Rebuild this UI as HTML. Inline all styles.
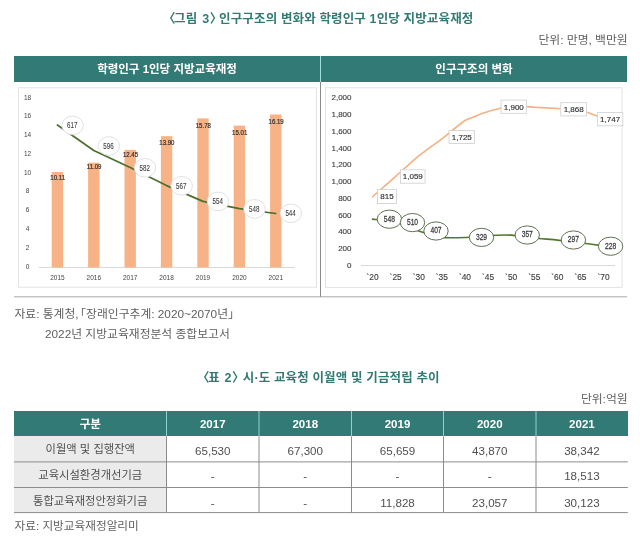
<!DOCTYPE html>
<html lang="ko"><head><meta charset="utf-8"><title>그림 3</title>
<style>
html,body{margin:0;padding:0;background:#fff;}
body{width:640px;height:544px;position:relative;overflow:hidden;filter:blur(0.35px);font-family:"Liberation Sans", "Noto Sans CJK KR", sans-serif;color:#555;}
.abs{position:absolute;white-space:nowrap;}
.title{color:#327a72;font-weight:bold;font-size:12.5px;letter-spacing:0.14px;line-height:16px;text-align:left;}
.unit{font-size:11.8px;line-height:16px;color:#606060;right:12.4px;text-align:right;}
.band{background:#327a75;top:56px;height:26px;color:#fff;font-weight:bold;font-size:11.5px;line-height:26px;text-align:center;}
.src{font-size:11.8px;line-height:16px;color:#606060;}
.lb{margin-left:-6px;margin-right:-1.5px;}.rb{margin-right:-7px;margin-left:0.4px;}
.src .lb{margin-left:-7.6px;margin-right:0;}.src .rb{margin-right:0;margin-left:0}
svg{position:absolute;left:0;top:0;}
svg text{font-family:"Liberation Sans", "Noto Sans CJK KR", sans-serif;}
.ax{font-size:7.4px;fill:#444;}
.bl{font-size:8px;fill:#2e2e2e;stroke:#2e2e2e;stroke-width:0.22px;}
.el{font-size:8.2px;fill:#3c3c3c;stroke:#3c3c3c;stroke-width:0.1px;}
.er{stroke-width:0.25px !important;}
.rx{font-size:8px;fill:#3c3c3c;stroke:#3c3c3c;stroke-width:0.12px;}
.rl{font-size:8px;fill:#2e2e2e;stroke:#2e2e2e;stroke-width:0.15px;}
.tbl{position:absolute;left:14px;top:411px;width:613.8px;}
.r{overflow:hidden;display:grid;grid-template-columns:152.5px 92.5px 92.5px 92px 92.5px 91.8px;height:25px;}
.r>div{text-align:center;font-size:11.3px;line-height:25px;height:100%;color:#505050;white-space:nowrap;}
.r>div:first-child{background:#ebebeb;}
.r.h{background:#327a75;height:25.4px;}
.r.h>div{color:#fff;font-weight:bold;font-size:11.5px;line-height:27.5px;background:none;}
.r.h>div:first-child{background:none;}
.r.a{height:26.1px;}.r.a>div{line-height:27px;}
.r.b>div{line-height:26px;}.r.c>div{line-height:29px;}
.r:not(.h)>div:not(:first-child){position:relative;top:0.6px;font-size:11.6px;}
</style></head><body>
<div class="abs title" style="top:10.8px;left:168.9px;"><span class="lb">〈</span>그림<span style="margin-left:1.4px"> 3</span><span class="rb">〉</span> 인구구조의 변화와 학령인구 1인당 지방교육재정</div>
<div class="abs unit" style="top:32.2px;">단위: 만명, 백만원</div>
<div class="abs band" style="left:14px;width:306px;">학령인구 1인당 지방교육재정</div>
<div class="abs band" style="left:321px;width:306px;">인구구조의 변화</div>
<div class="abs" style="left:320px;top:56px;width:1px;height:26px;background:#9fe0dc;"></div>
<div class="abs" style="left:320px;top:82px;width:1px;height:215px;background:#8a8a8a;"></div>

<svg width="640" height="544" viewBox="0 0 640 544">
<line x1="14" y1="296.8" x2="627" y2="296.8" stroke="#999" stroke-width="0.85"/>
<rect x="18.5" y="87.8" width="298" height="199.4" fill="#fff" stroke="#e3e3e3" stroke-width="1"/>
<text transform="translate(27.5,268.60) scale(0.88,1)" class="ax" text-anchor="middle">0</text>
<text transform="translate(27.5,249.82) scale(0.88,1)" class="ax" text-anchor="middle">2</text>
<text transform="translate(27.5,231.04) scale(0.88,1)" class="ax" text-anchor="middle">4</text>
<text transform="translate(27.5,212.26) scale(0.88,1)" class="ax" text-anchor="middle">6</text>
<text transform="translate(27.5,193.48) scale(0.88,1)" class="ax" text-anchor="middle">8</text>
<text transform="translate(27.5,174.70) scale(0.88,1)" class="ax" text-anchor="middle">10</text>
<text transform="translate(27.5,155.92) scale(0.88,1)" class="ax" text-anchor="middle">12</text>
<text transform="translate(27.5,137.14) scale(0.88,1)" class="ax" text-anchor="middle">14</text>
<text transform="translate(27.5,118.36) scale(0.88,1)" class="ax" text-anchor="middle">16</text>
<text transform="translate(27.5,99.58) scale(0.88,1)" class="ax" text-anchor="middle">18</text>
<line x1="39" y1="267.5" x2="295" y2="267.5" stroke="#d9d9d9" stroke-width="1"/>
<rect x="51.70" y="171.96" width="11.4" height="95.54" fill="#f7b386"/>
<text transform="translate(57.40,279.6) scale(0.88,1)" class="ax" text-anchor="middle">2015</text>
<rect x="88.10" y="162.70" width="11.4" height="104.80" fill="#f7b386"/>
<text transform="translate(93.80,279.6) scale(0.88,1)" class="ax" text-anchor="middle">2016</text>
<rect x="124.50" y="149.85" width="11.4" height="117.65" fill="#f7b386"/>
<text transform="translate(130.20,279.6) scale(0.88,1)" class="ax" text-anchor="middle">2017</text>
<rect x="160.90" y="136.15" width="11.4" height="131.35" fill="#f7b386"/>
<text transform="translate(166.60,279.6) scale(0.88,1)" class="ax" text-anchor="middle">2018</text>
<rect x="197.30" y="118.38" width="11.4" height="149.12" fill="#f7b386"/>
<text transform="translate(203.00,279.6) scale(0.88,1)" class="ax" text-anchor="middle">2019</text>
<rect x="233.70" y="125.66" width="11.4" height="141.84" fill="#f7b386"/>
<text transform="translate(239.40,279.6) scale(0.88,1)" class="ax" text-anchor="middle">2020</text>
<rect x="270.10" y="114.50" width="11.4" height="153.00" fill="#f7b386"/>
<text transform="translate(275.80,279.6) scale(0.88,1)" class="ax" text-anchor="middle">2021</text>
<path d="M57.40,125.00 L93.80,150.45 L130.20,167.42 L166.60,185.60 L203.00,201.36 L239.40,208.63 L275.80,213.48" fill="none" stroke="#4b6f2e" stroke-width="1.7" stroke-linecap="round" stroke-linejoin="round"/>
<text transform="translate(57.70,180.35) scale(0.76,1)" class="bl" text-anchor="middle">10.11</text>
<text transform="translate(94.10,169.35) scale(0.76,1)" class="bl" text-anchor="middle">11.09</text>
<text transform="translate(130.50,156.85) scale(0.76,1)" class="bl" text-anchor="middle">12.45</text>
<text transform="translate(166.90,145.10) scale(0.76,1)" class="bl" text-anchor="middle">13.90</text>
<text transform="translate(203.30,128.10) scale(0.76,1)" class="bl" text-anchor="middle">15.78</text>
<text transform="translate(239.70,134.85) scale(0.76,1)" class="bl" text-anchor="middle">15.01</text>
<text transform="translate(276.10,123.60) scale(0.76,1)" class="bl" text-anchor="middle">16.19</text>
<ellipse cx="72.60" cy="125.40" rx="10.8" ry="9.3" fill="#fff" stroke="#d9d9df" stroke-width="0.8"/>
<text transform="translate(72.30,128.10) scale(0.76,1)" class="el" text-anchor="middle">617</text>
<ellipse cx="108.80" cy="146.00" rx="10.8" ry="9.3" fill="#fff" stroke="#d9d9df" stroke-width="0.8"/>
<text transform="translate(108.50,148.70) scale(0.76,1)" class="el" text-anchor="middle">596</text>
<ellipse cx="145.00" cy="167.80" rx="10.8" ry="9.3" fill="#fff" stroke="#d9d9df" stroke-width="0.8"/>
<text transform="translate(144.70,170.50) scale(0.76,1)" class="el" text-anchor="middle">582</text>
<ellipse cx="181.60" cy="185.80" rx="10.8" ry="9.3" fill="#fff" stroke="#d9d9df" stroke-width="0.8"/>
<text transform="translate(181.30,188.50) scale(0.76,1)" class="el" text-anchor="middle">567</text>
<ellipse cx="218.00" cy="201.40" rx="10.8" ry="9.3" fill="#fff" stroke="#d9d9df" stroke-width="0.8"/>
<text transform="translate(217.70,204.10) scale(0.76,1)" class="el" text-anchor="middle">554</text>
<ellipse cx="254.50" cy="208.90" rx="10.8" ry="9.3" fill="#fff" stroke="#d9d9df" stroke-width="0.8"/>
<text transform="translate(254.20,211.60) scale(0.76,1)" class="el" text-anchor="middle">548</text>
<ellipse cx="290.90" cy="213.30" rx="10.8" ry="9.3" fill="#fff" stroke="#d9d9df" stroke-width="0.8"/>
<text transform="translate(290.60,216.00) scale(0.76,1)" class="el" text-anchor="middle">544</text>
<rect x="325.5" y="87.8" width="296.5" height="199.6" fill="#fff" stroke="#e3e3e3" stroke-width="1"/>
<text x="351.5" y="267.80" class="rx" text-anchor="end">0</text>
<text x="351.5" y="251.05" class="rx" text-anchor="end">200</text>
<text x="351.5" y="234.30" class="rx" text-anchor="end">400</text>
<text x="351.5" y="217.55" class="rx" text-anchor="end">600</text>
<text x="351.5" y="200.80" class="rx" text-anchor="end">800</text>
<text x="351.5" y="184.05" class="rx" text-anchor="end">1,000</text>
<text x="351.5" y="167.30" class="rx" text-anchor="end">1,200</text>
<text x="351.5" y="150.55" class="rx" text-anchor="end">1,400</text>
<text x="351.5" y="133.80" class="rx" text-anchor="end">1,600</text>
<text x="351.5" y="117.05" class="rx" text-anchor="end">1,800</text>
<text x="351.5" y="100.30" class="rx" text-anchor="end">2,000</text>
<line x1="361" y1="265.5" x2="615" y2="265.5" stroke="#d9d9d9" stroke-width="1"/>
<text x="372.55" y="279.9" class="rx" style="font-size:8.4px" text-anchor="middle">`20</text>
<text x="395.65" y="279.9" class="rx" style="font-size:8.4px" text-anchor="middle">`25</text>
<text x="418.75" y="279.9" class="rx" style="font-size:8.4px" text-anchor="middle">`30</text>
<text x="441.85" y="279.9" class="rx" style="font-size:8.4px" text-anchor="middle">`35</text>
<text x="464.95" y="279.9" class="rx" style="font-size:8.4px" text-anchor="middle">`40</text>
<text x="488.05" y="279.9" class="rx" style="font-size:8.4px" text-anchor="middle">`45</text>
<text x="511.15" y="279.9" class="rx" style="font-size:8.4px" text-anchor="middle">`50</text>
<text x="534.25" y="279.9" class="rx" style="font-size:8.4px" text-anchor="middle">`55</text>
<text x="557.35" y="279.9" class="rx" style="font-size:8.4px" text-anchor="middle">`60</text>
<text x="580.45" y="279.9" class="rx" style="font-size:8.4px" text-anchor="middle">`65</text>
<text x="603.55" y="279.9" class="rx" style="font-size:8.4px" text-anchor="middle">`70</text>
<path d="M372.55,196.74 C374.20,195.28 392.35,179.23 395.65,176.31 C398.95,173.39 415.45,158.55 418.75,155.87 C422.05,153.20 438.55,141.40 441.85,138.87 C445.15,136.35 461.65,122.49 464.95,120.53 C468.25,118.58 484.75,112.53 488.05,111.49 C491.35,110.44 507.85,106.18 511.15,105.88 C514.45,105.57 530.95,107.02 534.25,107.22 C537.55,107.41 554.05,108.35 557.35,108.55 C560.65,108.76 577.15,109.34 580.45,110.06 C583.75,110.79 601.90,118.07 603.55,118.69" fill="none" stroke="#f4b183" stroke-width="1.6" stroke-linecap="round"/>
<path d="M372.55,219.10 C374.86,219.42 391.03,221.11 395.65,222.29 C400.27,223.47 414.13,229.41 418.75,230.91 C423.37,232.42 437.23,236.71 441.85,237.36 C446.47,238.02 460.33,237.63 464.95,237.45 C469.57,237.26 483.43,235.75 488.05,235.52 C492.67,235.29 506.53,234.85 511.15,235.10 C515.77,235.35 529.63,237.53 534.25,238.03 C538.87,238.53 552.73,239.65 557.35,240.13 C561.97,240.60 575.83,242.23 580.45,242.81 C585.07,243.38 601.24,245.60 603.55,245.91" fill="none" stroke="#4f7a28" stroke-width="1.6" stroke-linecap="round"/>
<rect x="377.50" y="189.60" width="19.00" height="14.00" fill="#fff" stroke="#cfcfcf" stroke-width="0.8"/>
<text x="387.00" y="199.40" class="rl" text-anchor="middle">815</text>
<rect x="400.55" y="169.80" width="24.50" height="13.40" fill="#fff" stroke="#cfcfcf" stroke-width="0.8"/>
<text x="412.80" y="179.30" class="rl" text-anchor="middle">1,059</text>
<rect x="449.05" y="130.50" width="25.50" height="13.00" fill="#fff" stroke="#cfcfcf" stroke-width="0.8"/>
<text x="461.80" y="139.80" class="rl" text-anchor="middle">1,725</text>
<rect x="501.05" y="100.10" width="25.50" height="13.20" fill="#fff" stroke="#cfcfcf" stroke-width="0.8"/>
<text x="513.80" y="109.50" class="rl" text-anchor="middle">1,900</text>
<rect x="560.80" y="102.70" width="25.80" height="13.20" fill="#fff" stroke="#cfcfcf" stroke-width="0.8"/>
<text x="573.70" y="112.10" class="rl" text-anchor="middle">1,868</text>
<rect x="597.35" y="112.60" width="25.50" height="13.20" fill="#fff" stroke="#cfcfcf" stroke-width="0.8"/>
<text x="610.10" y="122.00" class="rl" text-anchor="middle">1,747</text>
<ellipse cx="389.40" cy="219.20" rx="12.2" ry="9.1" fill="#fff" stroke="#4e6140" stroke-width="0.9"/>
<text transform="translate(389.40,221.60) scale(0.82,1)" class="el er" text-anchor="middle">548</text>
<ellipse cx="412.50" cy="222.60" rx="12.2" ry="9.1" fill="#fff" stroke="#4e6140" stroke-width="0.9"/>
<text transform="translate(412.50,225.00) scale(0.82,1)" class="el er" text-anchor="middle">510</text>
<ellipse cx="436.00" cy="231.00" rx="12.2" ry="9.1" fill="#fff" stroke="#4e6140" stroke-width="0.9"/>
<text transform="translate(436.00,233.40) scale(0.82,1)" class="el er" text-anchor="middle">407</text>
<ellipse cx="481.50" cy="237.40" rx="12.2" ry="9.1" fill="#fff" stroke="#4e6140" stroke-width="0.9"/>
<text transform="translate(481.50,239.80) scale(0.82,1)" class="el er" text-anchor="middle">329</text>
<ellipse cx="527.25" cy="235.00" rx="12.2" ry="9.1" fill="#fff" stroke="#4e6140" stroke-width="0.9"/>
<text transform="translate(527.25,237.40) scale(0.82,1)" class="el er" text-anchor="middle">357</text>
<ellipse cx="573.40" cy="240.00" rx="12.2" ry="9.1" fill="#fff" stroke="#4e6140" stroke-width="0.9"/>
<text transform="translate(573.40,242.40) scale(0.82,1)" class="el er" text-anchor="middle">297</text>
<ellipse cx="610.60" cy="246.25" rx="12.2" ry="9.1" fill="#fff" stroke="#4e6140" stroke-width="0.9"/>
<text transform="translate(610.60,248.65) scale(0.82,1)" class="el er" text-anchor="middle">228</text>
</svg>
<div class="abs src" style="left:14.5px;top:306.3px;">자료: 통계청, <span class="lb">「</span>장래인구추계: 2020~2070년<span class="rb">」</span></div>
<div class="abs src" style="left:45px;top:326px;">2022년 지방교육재정분석 종합보고서</div>
<div class="abs title" style="top:370.4px;left:203px;"><span class="lb">〈</span>표<span style="margin-left:1px"> 2</span><span class="rb" style="margin-right:-5.4px">〉</span> 시·도 교육청 이월액 및 기금적립 추이</div>
<div class="abs unit" style="top:390.7px;">단위:억원</div>
<div class="tbl">
<div class="r h"><div>구분</div><div>2017</div><div>2018</div><div>2019</div><div>2020</div><div>2021</div></div>
<div class="r a"><div>이월액 및 집행잔액</div><div>65,530</div><div>67,300</div><div>65,659</div><div>43,870</div><div>38,342</div></div>
<div class="r b"><div>교육시설환경개선기금</div><div>-</div><div>-</div><div>-</div><div>-</div><div>18,513</div></div>
<div class="r c"><div>통합교육재정안정화기금</div><div>-</div><div>-</div><div>11,828</div><div>23,057</div><div>30,123</div></div>
</div>
<svg width="640" height="544" viewBox="0 0 640 544" style="pointer-events:none">
<g stroke="#8ed3cb" stroke-width="1"><line x1="166.5" y1="411" x2="166.5" y2="436.4"/><line x1="259" y1="411" x2="259" y2="436.4"/><line x1="351.5" y1="411" x2="351.5" y2="436.4"/><line x1="443.5" y1="411" x2="443.5" y2="436.4"/><line x1="536" y1="411" x2="536" y2="436.4"/></g>
<g stroke="#8c8c8c" stroke-width="1"><line x1="166.5" y1="436.4" x2="166.5" y2="513"/><line x1="259" y1="436.4" x2="259" y2="513"/><line x1="351.5" y1="436.4" x2="351.5" y2="513"/><line x1="443.5" y1="436.4" x2="443.5" y2="513"/><line x1="536" y1="436.4" x2="536" y2="513"/>
<line x1="14" y1="461.9" x2="627.8" y2="461.9"/><line x1="14" y1="487.5" x2="627.8" y2="487.5"/><line x1="14" y1="512.6" x2="627.8" y2="512.6"/></g>
</svg>
<div class="abs src" style="left:14.5px;top:517.7px;font-size:11.65px;">자료: 지방교육재정알리미</div>
</body></html>
